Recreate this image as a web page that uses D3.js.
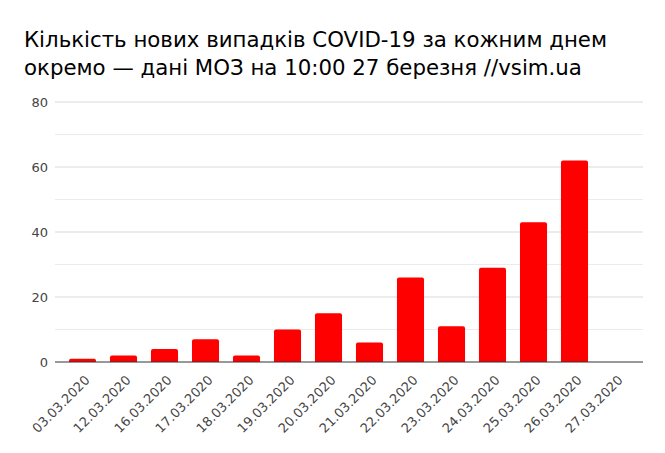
<!DOCTYPE html>
<html>
<head>
<meta charset="utf-8">
<script src="https://cdn.jsdelivr.net/npm/d3@7"></script>
<style>
  body { margin: 0; background: #fff; }
  svg { display: block; }
</style>
</head>
<body>
<div id="canvas"><svg width="665" height="453"></svg></div>
<script>
// data
const dates = ["03.03.2020", "12.03.2020", "16.03.2020", "17.03.2020", "18.03.2020",
    "19.03.2020", "20.03.2020", "21.03.2020", "22.03.2020", "23.03.2020",
    "24.03.2020", "25.03.2020", "26.03.2020", "27.03.2020"];
const newCases = [1, 2, 4, 7, 2, 10, 15, 6, 26, 11, 29, 43, 62, 0];
const yTicks = [0, 20, 40, 60, 80];
const yMinor = [10, 30, 50, 70];
const titleLines = [
    "Кількість нових випадків COVID-19 за кожним днем",
    "окремо — дані МОЗ на 10:00 27 березня //vsim.ua"
];

const svg = d3.select("#canvas").select("svg");
const font = "'DejaVu Sans', Verdana, sans-serif";
const plot = { left: 55, right: 643, top: 102, bottom: 362 };

const x = d3.scaleBand()
    .domain(dates)
    .range([plot.left + 7, plot.right - 7])
    .paddingInner(0.34)
    .paddingOuter(0.17);

const y = d3.scaleLinear().domain([0, 80]).range([plot.bottom, plot.top]);

// title
svg.append("g")
    .selectAll("text")
    .data(titleLines)
    .join("text")
    .attr("x", 24)
    .attr("y", (d, i) => 47 + i * 28)
    .attr("font-family", font)
    .attr("font-size", 21.3)
    .attr("fill", "#000")
    .text(d => d);

// grid
svg.append("g")
    .selectAll("line")
    .data(yMinor)
    .join("line")
    .attr("x1", plot.left).attr("x2", plot.right)
    .attr("y1", d => y(d)).attr("y2", d => y(d))
    .attr("stroke", "#ebebeb");

svg.append("g")
    .selectAll("line")
    .data(yTicks.filter(d => d > 0))
    .join("line")
    .attr("x1", plot.left).attr("x2", plot.right)
    .attr("y1", d => y(d)).attr("y2", d => y(d))
    .attr("stroke", "#d9d9d9");

// y labels
svg.append("g")
    .selectAll("text")
    .data(yTicks)
    .join("text")
    .attr("x", 48)
    .attr("y", d => y(d) + 5)
    .attr("text-anchor", "end")
    .attr("font-family", font)
    .attr("font-size", 13)
    .attr("fill", "#444")
    .text(d => d);

// bars with small rounded top
svg.append("g")
    .selectAll("path")
    .data(dates.map((d, i) => ({ date: d, value: newCases[i] })).filter(d => d.value > 0))
    .join("path")
    .attr("d", d => {
        const x0 = x(d.date), w = x.bandwidth();
        const y0 = y(d.value), b = y(0), r = Math.min(2, b - y0);
        return `M${x0},${b}V${y0 + r}Q${x0},${y0} ${x0 + r},${y0}H${x0 + w - r}Q${x0 + w},${y0} ${x0 + w},${y0 + r}V${b}Z`;
    })
    .attr("fill", "#ff0000");

// baseline
svg.append("line")
    .attr("x1", plot.left).attr("x2", plot.right)
    .attr("y1", y(0)).attr("y2", y(0))
    .attr("stroke", "#333")
    .attr("stroke-width", 1);

// x labels, rotated
svg.append("g")
    .selectAll("text")
    .data(dates)
    .join("text")
    .attr("transform", d => `translate(${x(d) + x.bandwidth() / 2 + 8},${plot.bottom + 19}) rotate(-45)`)
    .attr("text-anchor", "end")
    .attr("font-family", font)
    .attr("font-size", 13)
    .attr("fill", "#444")
    .text(d => d);
</script>
</body>
</html>
